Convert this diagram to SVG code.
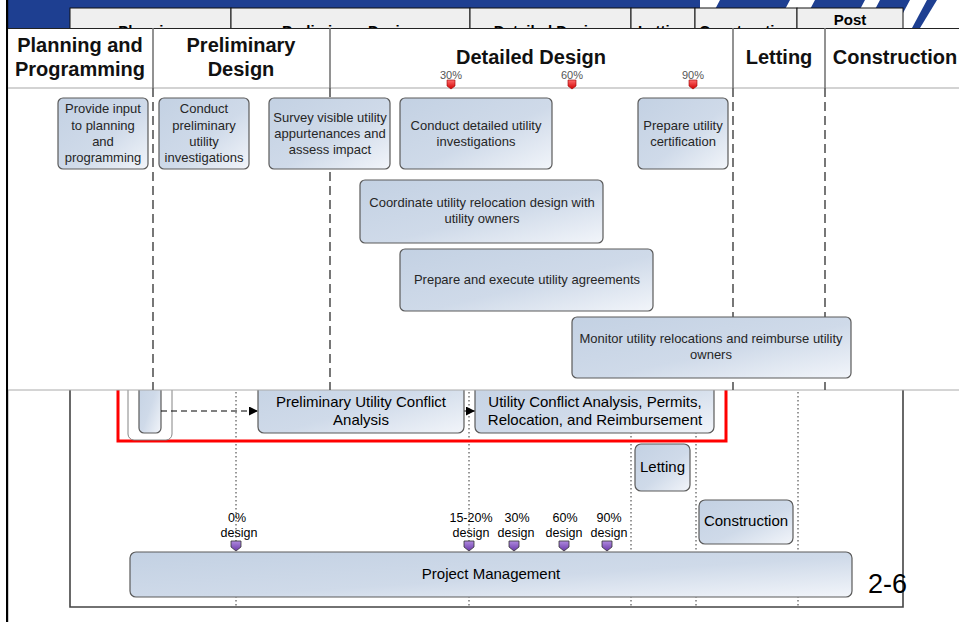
<svg xmlns="http://www.w3.org/2000/svg" width="959" height="622" viewBox="0 0 959 622">
<defs>
<linearGradient id="g" x1="0" y1="0" x2="1" y2="1">
<stop offset="0" stop-color="#c3d1e3"/>
<stop offset="0.55" stop-color="#cfdae9"/>
<stop offset="1" stop-color="#f2f5fa"/>
</linearGradient>
<linearGradient id="pg" x1="0" y1="0" x2="0" y2="1">
<stop offset="0" stop-color="#b08ae0"/>
<stop offset="1" stop-color="#6a3aa8"/>
</linearGradient>
<linearGradient id="rg" x1="0" y1="0" x2="0" y2="1">
<stop offset="0" stop-color="#ff6a6a"/>
<stop offset="1" stop-color="#d00000"/>
</linearGradient>
<clipPath id="hc"><rect x="70" y="8" width="833" height="20"/></clipPath>
<marker id="ah" viewBox="0 0 10 10" refX="10" refY="5" markerWidth="9" markerHeight="9" markerUnits="userSpaceOnUse" orient="auto">
<path d="M0,0 L10,5 L0,10 z" fill="#000"/>
</marker>
</defs>
<style>
.box{fill:url(#g);stroke:#5a5a5a;stroke-width:1.2}
.t{font-family:"Liberation Sans",Arial,sans-serif;font-size:13px;fill:#262626;text-anchor:middle}
.tl{font-family:"Liberation Sans",Arial,sans-serif;font-size:15px;fill:#000;text-anchor:middle}
.ms{font-family:"Liberation Sans",Arial,sans-serif;font-size:12.5px;fill:#000;text-anchor:middle}
.hd{font-family:"Liberation Sans",Arial,sans-serif;font-size:20px;font-weight:bold;fill:#111;text-anchor:middle}
.bh{font-family:"Liberation Sans",Arial,sans-serif;font-size:15px;font-weight:bold;fill:#000;text-anchor:middle}
.pc{font-family:"Liberation Sans",Arial,sans-serif;font-size:11px;fill:#555;text-anchor:middle}
.cell{fill:#efefef;stroke:#111;stroke-width:1}
.dot{stroke:#333;stroke-width:1;stroke-dasharray:1.5 2.5;fill:none}
.dash{stroke:#555;stroke-width:1.6;stroke-dasharray:9 5;fill:none}
.sol{stroke:#777;stroke-width:1.6;fill:none}
.rm{fill:url(#rg);stroke:#900;stroke-width:0.6}
.pm{fill:url(#pg);stroke:#333;stroke-width:0.8}
</style>

<!-- background slide -->
<g id="banner">
<rect x="8" y="0" width="692" height="28" fill="#1e3f91"/>
<polygon points="720,0 790,0 775,28 705,28" fill="#1e3f91"/>
<polygon points="815,0 865,0 850,28 800,28" fill="#1e3f91"/>
<polygon points="880,0 910,0 895,28 865,28" fill="#1e3f91"/>
<polygon points="927,0 937,0 920,28 912,28" fill="#1e3f91"/>
</g>
<g id="bg-header">
<rect class="cell" x="70" y="8" width="161" height="22"/>
<rect class="cell" x="231" y="8" width="239" height="22"/>
<rect class="cell" x="470" y="8" width="161" height="22"/>
<rect class="cell" x="631" y="8" width="64" height="22"/>
<rect class="cell" x="695" y="8" width="102" height="22"/>
<rect class="cell" x="797" y="8" width="106" height="22"/>
<g clip-path="url(#hc)">
<text class="bh" x="150" y="36">Planning</text>
<text class="bh" x="350" y="36">Preliminary Design</text>
<text class="bh" x="550" y="36">Detailed Design</text>
<text class="bh" x="663" y="36">Letting</text>
<text class="bh" x="746" y="36">Construction</text>
</g>
<text class="bh" x="850" y="25">Post</text>
</g>
<rect x="6" y="0" width="2.2" height="622" fill="#000"/>

<!-- lower chart frame -->
<g id="frame" fill="none" stroke="#444" stroke-width="1.6">
<polyline points="70,380 70,607 903,607 903,380"/>
</g>
<g id="dotted">
<line class="dot" x1="236" y1="380" x2="236" y2="607"/>
<line class="dot" x1="469" y1="380" x2="469" y2="607"/>
<line class="dot" x1="631" y1="380" x2="631" y2="607"/>
<line class="dot" x1="696" y1="380" x2="696" y2="607"/>
<line class="dot" x1="798" y1="380" x2="798" y2="607"/>
</g>
<g id="red-frame">
<polyline points="118,380 118,441 726,441 726,380" fill="none" stroke="#ff0000" stroke-width="3"/>
</g>
<g id="group-outline">
<rect x="128" y="370" width="44" height="70" rx="6" fill="#fff" stroke="#777" stroke-width="0.9"/>
</g>
<g id="small-box"><rect class="box" x="139" y="370" width="22" height="63" rx="5"/></g>
<g id="connectors">
<line x1="161" y1="411" x2="258" y2="411" stroke="#000" stroke-width="1" stroke-dasharray="6 4" marker-end="url(#ah)"/>
<line x1="464" y1="411" x2="475" y2="411" stroke="#000" stroke-width="1" marker-end="url(#ah)"/>
</g>
<g id="prelim-conflict">
<rect class="box" x="258" y="370" width="206" height="63" rx="6"/>
<text class="tl" x="361" y="407">Preliminary Utility Conflict</text>
<text class="tl" x="361" y="425">Analysis</text>
</g>
<g id="conflict-analysis">
<rect class="box" x="475" y="370" width="239" height="63" rx="6"/>
<text class="tl" x="595" y="407">Utility Conflict Analysis, Permits,</text>
<text class="tl" x="595" y="425">Relocation, and Reimbursement</text>
</g>
<g id="letting">
<rect class="box" x="635" y="444" width="55" height="47" rx="6"/>
<text class="tl" x="662.5" y="472">Letting</text>
</g>
<g id="construction">
<rect class="box" x="699" y="500" width="94" height="44" rx="6"/>
<text class="tl" x="746" y="526">Construction</text>
</g>
<g id="milestones">
<text class="ms" x="237" y="522">0%</text><text class="ms" x="239" y="537">design</text>
<polygon class="pm" points="231,541 241,541 241,547 236,551 231,547"/>
<text class="ms" x="471" y="522">15-20%</text><text class="ms" x="471" y="537">design</text>
<polygon class="pm" points="464,541 474,541 474,547 469,551 464,547"/>
<text class="ms" x="517" y="522">30%</text><text class="ms" x="516" y="537">design</text>
<polygon class="pm" points="509,541 519,541 519,547 514,551 509,547"/>
<text class="ms" x="565" y="522">60%</text><text class="ms" x="564" y="537">design</text>
<polygon class="pm" points="559,541 569,541 569,547 564,551 559,547"/>
<text class="ms" x="609" y="522">90%</text><text class="ms" x="609" y="537">design</text>
<polygon class="pm" points="602,541 612,541 612,547 607,551 602,547"/>
</g>
<g id="project-management">
<rect class="box" x="130" y="552" width="722" height="45" rx="6"/>
<text class="tl" x="491" y="579">Project Management</text>
</g>
<text x="868" y="593" font-family="Liberation Sans,Arial,sans-serif" font-size="27px" fill="#000">2-6</text>

<!-- overlay panel -->
<g id="panel">
<rect x="8.2" y="28" width="951" height="362" fill="#fff"/>
<line x1="8" y1="28.5" x2="959" y2="28.5" stroke="#222" stroke-width="1"/>
<line x1="8" y1="88" x2="959" y2="88" stroke="#c4c4c4" stroke-width="1.5"/>
<line x1="8" y1="390" x2="959" y2="390" stroke="#aaa" stroke-width="1"/>
<line class="sol" x1="153" y1="28" x2="153" y2="88"/>
<line class="sol" x1="330" y1="28" x2="330" y2="88"/>
<line class="sol" x1="733" y1="28" x2="733" y2="88"/>
<line class="sol" x1="825" y1="28" x2="825" y2="88"/>
<line class="dash" x1="153" y1="88" x2="153" y2="390"/>
<line class="dash" x1="330" y1="88" x2="330" y2="390"/>
<line class="dash" x1="733" y1="88" x2="733" y2="390"/>
<line class="dash" x1="825" y1="88" x2="825" y2="390"/>
<text class="hd" x="80" y="52">Planning and</text>
<text class="hd" x="80" y="76">Programming</text>
<text class="hd" x="241" y="52">Preliminary</text>
<text class="hd" x="241" y="76">Design</text>
<text class="hd" x="531" y="64">Detailed Design</text>
<text class="hd" x="779" y="64">Letting</text>
<text class="hd" x="895" y="64">Construction</text>
<text class="pc" x="451" y="79">30%</text>
<polygon class="rm" points="447,80 455,80 455,86 451,89 447,86"/>
<text class="pc" x="572" y="79">60%</text>
<polygon class="rm" points="568,80 576,80 576,86 572,89 568,86"/>
<text class="pc" x="693" y="79">90%</text>
<polygon class="rm" points="689,80 697,80 697,86 693,89 689,86"/>
</g>
<g id="n-provide-input">
<rect class="box" x="58" y="98" width="90" height="71" rx="5"/>
<text class="t" x="103" y="113">Provide input</text>
<text class="t" x="103" y="129.5">to planning</text>
<text class="t" x="103" y="146">and</text>
<text class="t" x="103" y="162">programming</text>
</g>
<g id="n-prelim-invest">
<rect class="box" x="159" y="98" width="90" height="71" rx="5"/>
<text class="t" x="204" y="113">Conduct</text>
<text class="t" x="204" y="129.5">preliminary</text>
<text class="t" x="204" y="146">utility</text>
<text class="t" x="204" y="162">investigations</text>
</g>
<g id="n-survey">
<rect class="box" x="269" y="98" width="121" height="71" rx="5"/>
<text class="t" x="330" y="121.5">Survey visible utility</text>
<text class="t" x="330" y="137.5">appurtenances and</text>
<text class="t" x="330" y="153.5">assess impact</text>
</g>
<g id="n-detailed-invest">
<rect class="box" x="400" y="98" width="152" height="71" rx="5"/>
<text class="t" x="476" y="129.5">Conduct detailed utility</text>
<text class="t" x="476" y="145.5">investigations</text>
</g>
<g id="n-certification">
<rect class="box" x="638" y="98" width="90" height="71" rx="5"/>
<text class="t" x="683" y="129.5">Prepare utility</text>
<text class="t" x="683" y="145.5">certification</text>
</g>
<g id="n-coordinate">
<rect class="box" x="360" y="180" width="243" height="63" rx="5"/>
<text class="t" x="482" y="206.5">Coordinate utility relocation design with</text>
<text class="t" x="482" y="222.5">utility owners</text>
</g>
<g id="n-agreements">
<rect class="box" x="400" y="249" width="253" height="62" rx="5"/>
<text class="t" x="527" y="283.5">Prepare and execute utility agreements</text>
</g>
<g id="n-monitor">
<rect class="box" x="572" y="317" width="279" height="61" rx="5"/>
<text class="t" x="711" y="342.5">Monitor utility relocations and reimburse utility</text>
<text class="t" x="711" y="358.5">owners</text>
</g>
</svg>
